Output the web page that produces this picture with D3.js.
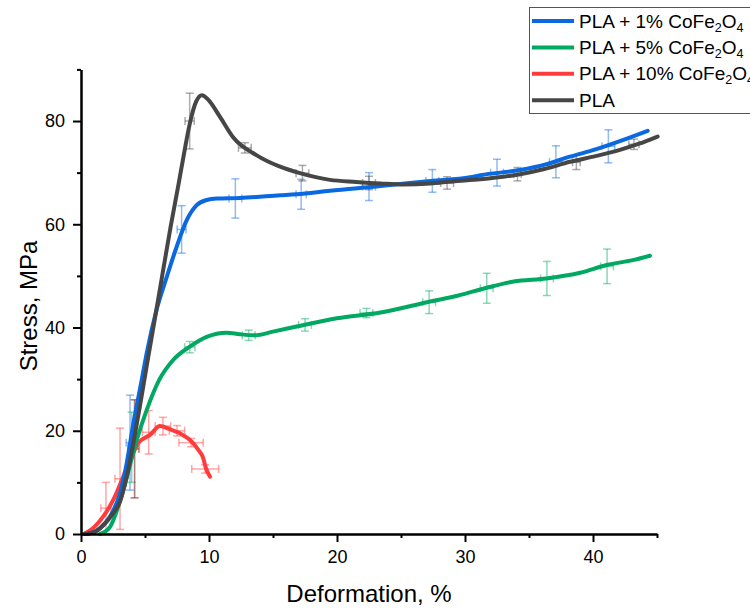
<!DOCTYPE html>
<html>
<head>
<meta charset="utf-8">
<script src="https://cdn.jsdelivr.net/npm/d3@7"></script>
<style>
  body { margin: 0; background: #fff; }
  text { font-family: "Liberation Sans", Arial, sans-serif; fill: #000; }
</style>
</head>
<body>
<div id="chart"></div>
<script>
// series (deformation %, stress MPa)
var plaX = [0.3, 1, 1.74, 2.5, 3.05, 3.57, 4.09, 4.6, 5.13, 6, 7, 7.6, 8, 8.5, 9, 9.45, 9.95, 10.86, 11.9, 13.7, 15.5, 17.1, 19.45, 21.5, 23.4, 25.2, 27.3, 29, 31.2, 34.3, 36.2, 38.2, 40.2, 42.1, 43.6, 45.05];
var plaY = [0, 0.3, 1.7, 4, 6.3, 11.1, 17.6, 24.7, 32.5, 45, 59.5, 67.5, 73, 79.5, 83.8, 85, 84.1, 80.8, 76.8, 73.4, 71.2, 69.9, 68.6, 68.2, 67.9, 67.7, 67.9, 68.3, 68.7, 69.7, 70.7, 72.1, 73.2, 74.4, 75.6, 77];

var p1X = [0.5, 1.48, 2.27, 3.05, 3.57, 4.09, 4.74, 5.13, 5.9, 6.7, 7.48, 8.26, 9.04, 9.82, 10.6, 12.4, 15.55, 16.85, 19.45, 23.4, 27.3, 30.4, 31.2, 34.3, 36.3, 38.2, 40.2, 42.1, 44.27];
var p1Y = [0, 1.1, 3.4, 7.9, 13.7, 21.4, 29.8, 35, 43.4, 49.8, 55.7, 60.8, 63.7, 64.7, 65, 65.1, 65.6, 65.8, 66.5, 67.4, 68.4, 69.1, 69.5, 70.5, 71.6, 73.1, 74.5, 76.1, 78.1];

var p5X = [1.48, 2.27, 3.3, 4.35, 5.13, 6.1, 7.2, 8.5, 9.82, 11.38, 12.4, 13.6, 15, 16.85, 20, 23.4, 27.2, 29.5, 31.7, 33.8, 36.35, 39, 41.07, 43.2, 44.45];
var p5Y = [0, 1.4, 8.5, 18.2, 24, 29.8, 33.7, 36.3, 38.2, 39, 38.7, 38.5, 39.2, 40.2, 41.8, 42.9, 45, 46.2, 47.7, 48.9, 49.5, 50.6, 52.1, 53.1, 53.9];

var p10X = [0.2, 0.83, 1.74, 2.52, 3.3, 3.96, 4.48, 5.39, 6.17, 6.95, 7.73, 8.52, 9.17, 9.55, 9.74, 10.08];
var p10Y = [0, 0.9, 3.4, 6.6, 11.1, 15, 17.6, 19.2, 20.9, 20.3, 19.5, 18.2, 16.3, 14.7, 12.9, 11.1];

// error bars: centre x, centre y, x error, y error
var plaErrX = [4.2, 8.49, 12.8, 17.3, 22.5, 28.6, 34.1, 38.7, 43.2];
var plaErrY = [16.5, 80, 74.8, 69.9, 68, 68, 69.7, 72, 75.5];
var plaErrDx = [0.3, 0.36, 0.5, 0.5, 0.5, 0.5, 0.3, 0.3, 0.4];
var plaErrDy = [9.5, 5.4, 1, 1.5, 1.3, 1.2, 1.3, 1.4, 1];

var p1ErrX = [3.83, 7.86, 12.06, 17.2, 22.5, 27.45, 32.5, 37.1, 41.2];
var p1ErrY = [17.7, 59, 65, 65.8, 67.3, 68.4, 70, 72.1, 75.1];
var p1ErrDx = [0.3, 0.35, 0.5, 0.4, 0.5, 0.5, 0.5, 0.5, 0.5];
var p1ErrDy = [9.2, 4.6, 3.8, 2.9, 2.7, 2.2, 2.6, 3.1, 3.2];

var p5ErrX = [3.96, 8.5, 13.1, 17.5, 22.3, 27.2, 31.7, 36.4, 41.1];
var p5ErrY = [16.8, 36.2, 38.5, 40.5, 42.8, 44.9, 47.6, 49.5, 51.85];
var p5ErrDx = [0.3, 0.4, 0.5, 0.5, 0.5, 0.5, 0.5, 0.5, 0.5];
var p5ErrDy = [6.8, 1.1, 1, 1.2, 0.9, 2.2, 2.9, 3.3, 3.35];

var p10ErrX = [1.95, 3.05, 4.17, 5.29, 6.4, 7.5, 8.6, 9.7];
var p10ErrY = [5, 10.7, 16.5, 19.7, 20.9, 20, 17.7, 12.6];
var p10ErrDx = [0.4, 0.4, 0.4, 0.5, 0.6, 0.6, 0.95, 1.05];
var p10ErrDy = [5, 9.8, 9.5, 4.2, 1.7, 1, 0.8, 0.8];

var xMajor = [0, 10, 20, 30, 40];
var xMinor = [5, 15, 25, 35, 45];
var yMajor = [0, 20, 40, 60, 80];
var yMinor = [10, 30, 50, 70, 90];

var series = [
  {name: "PLA + 1% ", color: "#0a68e0", xs: p1X, ys: p1Y, ex: p1ErrX, ey: p1ErrY, edx: p1ErrDx, edy: p1ErrDy, sub: true},
  {name: "PLA + 5% ", color: "#00a862", xs: p5X, ys: p5Y, ex: p5ErrX, ey: p5ErrY, edx: p5ErrDx, edy: p5ErrDy, sub: true},
  {name: "PLA + 10% ", color: "#ff3b3b", xs: p10X, ys: p10Y, ex: p10ErrX, ey: p10ErrY, edx: p10ErrDx, edy: p10ErrDy, sub: true},
  {name: "PLA", color: "#464646", xs: plaX, ys: plaY, ex: plaErrX, ey: plaErrY, edx: plaErrDx, edy: plaErrDy, sub: false}
];

var width = 750, height = 609;
var svg = d3.select("#chart").append("svg")
  .attr("width", width)
  .attr("height", height);

var x = d3.scaleLinear().domain([0, 45]).range([81, 657]);
var y = d3.scaleLinear().domain([0, 90]).range([534, 69.4]);

// error bars first so the lines sit on top
series.forEach(function(s) {
  var g = svg.append("g").attr("stroke", s.color).attr("stroke-opacity", 0.45)
    .attr("stroke-width", 1.5).attr("fill", "none");
  s.ex.forEach(function(cx, i) {
    var cy = s.ey[i], dx = s.edx[i], dy = s.edy[i];
    var px = x(cx), py = y(cy);
    g.append("line").attr("x1", px).attr("x2", px).attr("y1", y(cy - dy)).attr("y2", y(cy + dy));
    g.append("line").attr("x1", px - 4).attr("x2", px + 4).attr("y1", y(cy - dy)).attr("y2", y(cy - dy));
    g.append("line").attr("x1", px - 4).attr("x2", px + 4).attr("y1", y(cy + dy)).attr("y2", y(cy + dy));
    g.append("line").attr("x1", x(cx - dx)).attr("x2", x(cx + dx)).attr("y1", py).attr("y2", py);
    g.append("line").attr("x1", x(cx - dx)).attr("x2", x(cx - dx)).attr("y1", py - 4).attr("y2", py + 4);
    g.append("line").attr("x1", x(cx + dx)).attr("x2", x(cx + dx)).attr("y1", py - 4).attr("y2", py + 4);
  });
});

var line = d3.line()
  .x(function(d) { return x(d[0]); })
  .y(function(d) { return y(d[1]); })
  .curve(d3.curveMonotoneX);

// draw order: 10%, 5%, 1%, PLA on top
[2, 1, 0, 3].forEach(function(k) {
  var s = series[k];
  svg.append("path")
    .datum(d3.zip(s.xs, s.ys))
    .attr("d", line)
    .attr("fill", "none")
    .attr("stroke", s.color)
    .attr("stroke-width", 4)
    .attr("stroke-linejoin", "round")
    .attr("stroke-linecap", "round");
});

// axes
function styleAxis(g) {
  g.select(".domain").attr("stroke-width", 2).attr("stroke", "#000");
  g.selectAll(".tick line").attr("stroke-width", 2).attr("stroke", "#000");
  g.selectAll("text").style("font-size", "18px").style("font-family", "Liberation Sans, Arial, sans-serif");
}

svg.append("g").attr("transform", "translate(0,534)")
  .call(d3.axisBottom(x).tickValues(xMinor).tickSize(4).tickFormat("").tickSizeOuter(0))
  .call(styleAxis);
svg.append("g").attr("transform", "translate(0,534)")
  .call(d3.axisBottom(x).tickValues(xMajor).tickSize(8).tickPadding(8).tickSizeOuter(0))
  .call(styleAxis);

svg.append("g").attr("transform", "translate(81,0)")
  .call(d3.axisLeft(y).tickValues(yMinor).tickSize(4).tickFormat("").tickSizeOuter(0))
  .call(styleAxis);
svg.append("g").attr("transform", "translate(81,0)")
  .call(d3.axisLeft(y).tickValues(yMajor).tickSize(8).tickPadding(8).tickSizeOuter(0))
  .call(styleAxis);

svg.append("text")
  .attr("x", 369).attr("y", 602)
  .attr("text-anchor", "middle")
  .style("font-size", "24px")
  .text("Deformation, %");

svg.append("text")
  .attr("transform", "translate(37,306) rotate(-90)")
  .attr("text-anchor", "middle")
  .style("font-size", "24px")
  .text("Stress, MPa");

// legend
var leg = svg.append("g");
leg.append("rect")
  .attr("x", 529.5).attr("y", 7.5).attr("width", 260).attr("height", 106)
  .attr("fill", "#fff").attr("stroke", "#555").attr("stroke-width", 1);

series.forEach(function(s, i) {
  var cy = 21 + i * 26.4;
  leg.append("line")
    .attr("x1", 532).attr("x2", 574).attr("y1", cy).attr("y2", cy)
    .attr("stroke", s.color).attr("stroke-width", 4);
  var t = leg.append("text").attr("x", 579).attr("y", cy + 6.5).style("font-size", "19px");
  if (s.sub) {
    t.append("tspan").text(s.name + "CoFe");
    t.append("tspan").attr("dy", 4).style("font-size", "12.5px").text("2");
    t.append("tspan").attr("dy", -4).text("O");
    t.append("tspan").attr("dy", 4).style("font-size", "12.5px").text("4");
  } else {
    t.text(s.name);
  }
});
</script>
</body>
</html>
